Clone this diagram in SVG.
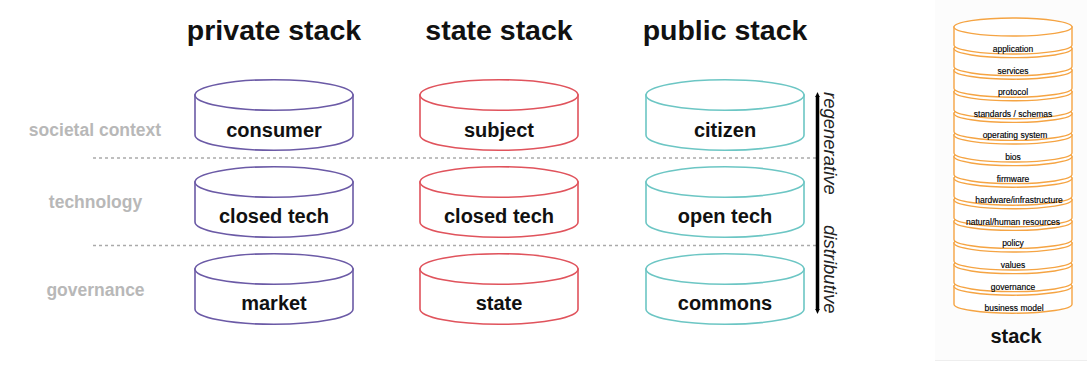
<svg xmlns="http://www.w3.org/2000/svg" width="1087" height="370" viewBox="0 0 1087 370">
<style>
.title{font-family:"Liberation Sans",Arial,sans-serif;font-weight:bold;font-size:28.5px;fill:#111;text-anchor:middle}
.row{font-family:"Liberation Sans",Arial,sans-serif;font-weight:bold;font-size:17.5px;fill:#b8b8b8;text-anchor:middle}
.lbl{font-family:"Liberation Sans",Arial,sans-serif;font-weight:bold;font-size:20px;fill:#111;text-anchor:middle}
.side{font-family:"Liberation Sans",Arial,sans-serif;font-style:italic;font-size:18.5px;fill:#222}
.sl{font-family:"Liberation Sans",Arial,sans-serif;font-size:8.5px;fill:#000;text-anchor:middle;stroke:#000;stroke-width:0.15}
.cyl{fill:#fff;stroke-width:1.6}
.pv{stroke:#6b5aa6}
.st{stroke:#e0535c}
.pb{stroke:#6cc6c4}
.or{fill:#fff;stroke:#f5a443;stroke-width:1.4}
.dash{stroke:#aaa;stroke-width:1.5;stroke-dasharray:3 3}
</style>
<defs>
<g id="cylM">
<path d="M-79,0 L-79,40 A79,15.3 0 0 0 79,40 L79,0 Z"/>
<ellipse cx="0" cy="0" rx="79" ry="15.3"/>
</g>
<g id="cylS" class="or">
<path d="M-59,0 L-59,18 A59,9 0 0 0 59,18 L59,0 Z"/>
<ellipse cx="0" cy="0" rx="59" ry="9"/>
</g>
</defs>
<rect x="0" y="0" width="1087" height="370" fill="#fff"/>
<rect x="935" y="0" width="152" height="360" fill="#fcfcfc"/>
<line x1="935" y1="360.5" x2="1087" y2="360.5" stroke="#eeeeee" stroke-width="1"/>

<g id="titles">
<text class="title" x="274" y="40">private stack</text>
<text class="title" x="499" y="40">state stack</text>
<text class="title" x="725" y="40">public stack</text>
</g>
<g id="row-labels">
<text class="row" x="95" y="136">societal context</text>
<text class="row" x="95.5" y="208">technology</text>
<text class="row" x="95.5" y="296">governance</text>
</g>

<g id="connectors">
<line class="dash" x1="93" y1="158" x2="816" y2="158"/>
<line class="dash" x1="93" y1="245.5" x2="816" y2="245.5"/>
<line x1="817.5" y1="96" x2="817.5" y2="310" stroke="#000" stroke-width="3.5"/>
<polygon points="817.5,92 815.2,97 819.8,97" fill="#000"/>
<polygon points="817.5,314 815.2,309 819.8,309" fill="#000"/>
</g>
<text class="side" transform="translate(824,92) rotate(90)">regenerative</text>
<text class="side" transform="translate(824,225) rotate(90)">distributive</text>

<g id="consumer"><use href="#cylM" class="cyl pv" x="274" y="95"/><text class="lbl" x="274" y="137">consumer</text></g>
<g id="closed-tech-private"><use href="#cylM" class="cyl pv" x="274" y="182"/><text class="lbl" x="274" y="223">closed tech</text></g>
<g id="market"><use href="#cylM" class="cyl pv" x="274" y="269"/><text class="lbl" x="274" y="310">market</text></g>

<g id="subject"><use href="#cylM" class="cyl st" x="499" y="95"/><text class="lbl" x="499" y="137">subject</text></g>
<g id="closed-tech-state"><use href="#cylM" class="cyl st" x="499" y="182"/><text class="lbl" x="499" y="223">closed tech</text></g>
<g id="state"><use href="#cylM" class="cyl st" x="499" y="269"/><text class="lbl" x="499" y="310">state</text></g>

<g id="citizen"><use href="#cylM" class="cyl pb" x="725" y="95"/><text class="lbl" x="725" y="137">citizen</text></g>
<g id="open-tech"><use href="#cylM" class="cyl pb" x="725" y="182"/><text class="lbl" x="725" y="223">open tech</text></g>
<g id="commons"><use href="#cylM" class="cyl pb" x="725" y="269"/><text class="lbl" x="725" y="310">commons</text></g>

<g id="stack">
<use href="#cylS" x="1013" y="286.2"/>
<use href="#cylS" x="1013" y="264.6"/>
<use href="#cylS" x="1013" y="243"/>
<use href="#cylS" x="1013" y="221.4"/>
<use href="#cylS" x="1013" y="199.8"/>
<use href="#cylS" x="1013" y="178.2"/>
<use href="#cylS" x="1013" y="156.6"/>
<use href="#cylS" x="1013" y="135"/>
<use href="#cylS" x="1013" y="113.4"/>
<use href="#cylS" x="1013" y="91.8"/>
<use href="#cylS" x="1013" y="70.2"/>
<use href="#cylS" x="1013" y="48.6"/>
<use href="#cylS" x="1013" y="27"/>
<text class="sl" x="1013" y="52">application</text>
<text class="sl" x="1013" y="73.6">services</text>
<text class="sl" x="1013" y="95.2">protocol</text>
<text class="sl" x="1013" y="116.8">standards / schemas</text>
<text class="sl" x="1015" y="138.4">operating system</text>
<text class="sl" x="1013" y="160">bios</text>
<text class="sl" x="1013" y="181.6">firmware</text>
<text class="sl" x="1019" y="203.2">hardware/infrastructure</text>
<text class="sl" x="1013" y="224.8">natural/human resources</text>
<text class="sl" x="1013" y="246.4">policy</text>
<text class="sl" x="1013" y="268">values</text>
<text class="sl" x="1013" y="289.6">governance</text>
<text class="sl" x="1014" y="311.2">business model</text>
<text class="lbl" x="1016" y="343" font-size="20.5">stack</text>
</g>
</svg>
